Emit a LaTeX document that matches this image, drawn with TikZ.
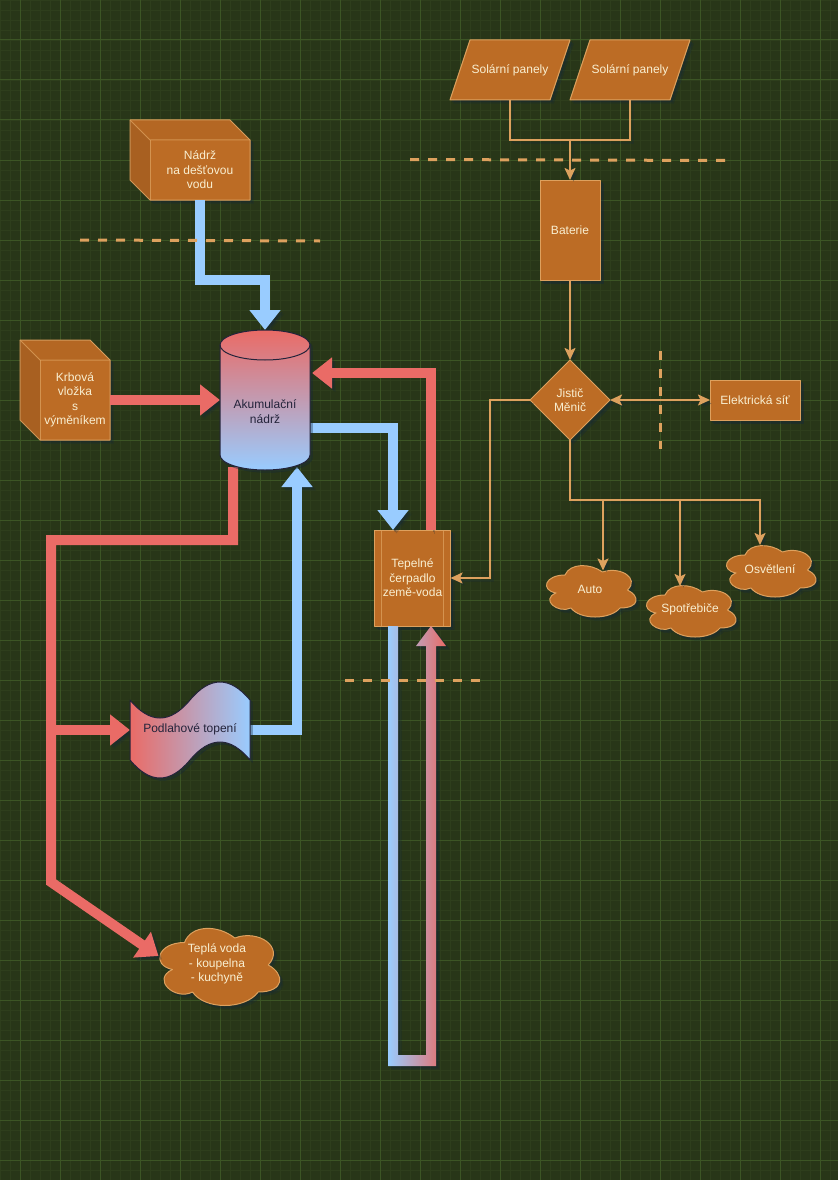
\documentclass[tikz,border=0pt]{standalone}
\usepackage{fontspec}
\setmainfont{Liberation Sans}
\usetikzlibrary{arrows.meta,shapes.geometric,calc}
\definecolor{bgc}{HTML}{283618}
\definecolor{gridmaj}{HTML}{3C5525}
\definecolor{gridmin}{HTML}{2E3E1C}
\definecolor{orf}{HTML}{BC6C25}
\definecolor{ors}{HTML}{DDA15E}
\definecolor{ort}{HTML}{FEFAE0}
\definecolor{bluep}{HTML}{99CCFF}
\definecolor{redp}{HTML}{EA6B66}
\definecolor{shc}{HTML}{14283C}
\definecolor{darkt}{HTML}{23233A}
\tikzset{
  softshadow/.style={
    preaction={draw=shc,fill=shc,opacity=.22,transform canvas={xshift=3.5pt,yshift=-3.5pt}},
    preaction={draw=shc,fill=shc,opacity=.3,transform canvas={xshift=2pt,yshift=-2pt}}},
  lineshadow/.style={
    preaction={draw=shc,opacity=.22,transform canvas={xshift=3.5pt,yshift=-3.5pt}},
    preaction={draw=shc,opacity=.3,transform canvas={xshift=2pt,yshift=-2pt}}},
  orshape/.style={fill=orf,draw=ors,line width=1pt,line join=round,softshadow},
  txt/.style={font=\fontsize{12}{14.5}\selectfont,text=ort!92!orf,align=center,inner sep=0pt,outer sep=0pt},
  dtxt/.style={txt,text=darkt},
  ornode/.style={txt,orshape,minimum width=#1},
  ghost/.style n args={2}{txt,minimum width=#1,minimum height=#2},
  pipe/.style={line width=10pt,line join=miter,lineshadow,-{Triangle[width=30pt,length=20pt]}},
  bluepipe/.style={pipe,draw=bluep},
  redpipe/.style={pipe,draw=redp},
  wire/.style={draw=ors,line width=2pt,line join=miter,lineshadow,-{Stealth[width=11pt,length=12pt,inset=2.5pt]}},
  wireboth/.style={wire,{Stealth[width=11pt,length=12pt,inset=2.5pt]}-{Stealth[width=11pt,length=12pt,inset=2.5pt]}},
  wireplain/.style={draw=ors,line width=2pt,line join=miter,lineshadow},
  cut/.style={draw=ors,line width=3pt,dash pattern=on 9pt off 9pt},
  edgeline/.style={draw=ors,line width=1pt,opacity=.75},
  gridminor/.style={draw=gridmin,line width=.7pt},
  gridmajor/.style={draw=gridmaj,line width=1pt}
}
\newcommand{\cloudat}[4]{%
  \begin{scope}[shift={(#1,#2)},x=#3pt,y=-#4pt]
    \path[orshape] (.25,.25) .. controls (.05,.25) and (0,.5) .. (.16,.55)
      .. controls (0,.66) and (.18,.9) .. (.31,.8)
      .. controls (.4,1) and (.7,1) .. (.8,.8)
      .. controls (1,.8) and (1,.6) .. (.875,.5)
      .. controls (1,.3) and (.8,.1) .. (.625,.2)
      .. controls (.5,.05) and (.3,.05) .. cycle;
  \end{scope}}
\begin{document}
\begin{tikzpicture}[x=1pt,y=-1pt]
\useasboundingbox (0,0) rectangle (838,1180);
\fill[bgc] (0,0) rectangle (838,1180);
% grid
\foreach \g in {0,10,...,830} \draw[gridminor] (\g,0) -- (\g,1180);
\foreach \g in {0,10,...,1170} \draw[gridminor] (0,\g) -- (838,\g);
\foreach \g in {20,60,...,820} \draw[gridmajor] (\g,0) -- (\g,1180);
\foreach \g in {0,40,...,1160} \draw[gridmajor] (0,\g) -- (838,\g);

% cubes
\path[orshape] (130,120) -- (230,120) -- (250,140) -- (250,200) -- (150,200) -- (130,180) -- cycle;
\fill[black,opacity=.04] (130,120) -- (230,120) -- (250,140) -- (150,140) -- cycle;
\fill[black,opacity=.1] (130,120) -- (150,140) -- (150,200) -- (130,180) -- cycle;
\draw[edgeline] (130,120) -- (150,140) -- (250,140);
\draw[edgeline] (150,140) -- (150,200);
\node[ghost={100pt}{60pt}] (nadrz) at (200,170) {Nádrž\\na dešťovou\\vodu};

\path[orshape] (20,340) -- (90,340) -- (110,360) -- (110,440) -- (40,440) -- (20,420) -- cycle;
\fill[black,opacity=.04] (20,340) -- (90,340) -- (110,360) -- (40,360) -- cycle;
\fill[black,opacity=.1] (20,340) -- (40,360) -- (40,440) -- (20,420) -- cycle;
\draw[edgeline] (20,340) -- (40,360) -- (110,360);
\draw[edgeline] (40,360) -- (40,440);
\node[ghost={70pt}{80pt}] (krb) at (75,400) {Krbová\\vložka\\s\\výměníkem};

% right-hand nodes
\node[ornode=60pt,minimum height=100pt] (bat) at (570,230) {Baterie};
\node[txt,orshape,shape=diamond,aspect=1,minimum width=80pt,minimum height=80pt] (jis) at (570,400) {Jistič\\Měnič};
\node[ornode=90pt,minimum height=40pt] (sit) at (755,400) {Elektrická síť};
\path[orshape] (450,100) -- (470,40) -- (570,40) -- (550,100) -- cycle;
\path[orshape] (570,100) -- (590,40) -- (690,40) -- (670,100) -- cycle;
\node[ghost={100pt}{60pt}] (solA) at (510,70) {Solární panely};
\node[ghost={100pt}{60pt}] (solB) at (630,70) {Solární panely};

% clouds
\cloudat{540}{560}{100}{60}
\cloudat{640}{580}{100}{60}
\cloudat{720}{540}{100}{60}
\cloudat{151}{920}{134}{90}
\node[txt] (auto) at (590,589) {Auto};
\node[txt] (spot) at (690,609) {Spotřebiče};
\node[txt] (osv) at (770,569) {Osvětlení};
\node[txt] (tepla) at (217,964) {Teplá voda\\- koupelna\\- kuchyně};

% ports
\coordinate (autoIn) at (603,570.5);
\coordinate (spotIn) at (680,586);
\coordinate (osvIn) at (760,545);
\coordinate (teplaIn) at (158.5,956);
\coordinate (akumTop) at (265,330);
\coordinate (akumLeft) at (220,400);
\coordinate (akumRightIn) at (312,373);
\coordinate (akumRightOut) at (310,428);
\coordinate (akumBotIn) at (297,467);
\coordinate (akumBotOut) at (233,467);
\coordinate (podIn) at (130,730);
\coordinate (podOut) at (250,730);

% heat pump
\node[ornode=76pt,minimum height=96pt] (tep) at (412.5,578) {Tepelné\\čerpadlo\\země-voda};
\draw[edgeline] ([xshift=7pt]tep.north west) -- ([xshift=7pt]tep.south west);
\draw[edgeline] ([xshift=-7pt]tep.north east) -- ([xshift=-7pt]tep.south east);

% wires
\draw[wireplain] (solA.south) -- (510,140) -- (630,140) -- (solB.south);
\draw[wire] (570,140) -- (bat.north);
\draw[wire] (bat.south) -- (jis.north);
\draw[wireboth] (jis.east) -- (sit.west);
\draw[wire] (jis.west) -- (490,400) -- (490,578) -- (tep.east);
\draw[wire] (jis.south) -- (570,500) -- (603,500) -- (autoIn);
\draw[wire] (603,500) -- (680,500) -- (spotIn);
\draw[wire] (680,500) -- (760,500) -- (osvIn);

% water pipes
\draw[bluepipe] (nadrz.south) -- (200,280) -- (265,280) -- (akumTop);
\draw[redpipe] (krb.east) -- (akumLeft);
\draw[redpipe] (431,530) -- (431,373) -- (akumRightIn);
\draw[bluepipe] (akumRightOut) -- (393,428) -- (393,530);
\draw[bluepipe] (podOut) -- (297,730) -- (akumBotIn);
\draw[redpipe] (51,730) -- (podIn);
\draw[redpipe] (akumBotOut) -- (233,540) -- (51,540) -- (51,882) -- (teplaIn);

% ground loop
\coordinate (loopOut) at (393,626);
\coordinate (loopIn) at (431,626);
\shade[left color=bluep,right color=redp,softshadow]
  ([xshift=-5pt]loopOut) -- ([xshift=5pt]loopOut) -- ($(loopOut)+(5,429)$) -- ($(loopIn)+(-5,429)$)
  -- ($(loopIn)+(-5,20)$) -- ($(loopIn)+(-15,20)$) -- (loopIn) -- ($(loopIn)+(15,20)$)
  -- ($(loopIn)+(5,20)$) -- ($(loopIn)+(5,440)$) -- ($(loopOut)+(-5,440)$) -- cycle;

% floor heating
\path[draw=shc,fill=shc,opacity=.35,shift={(2.5,2.5)}]
  (130,700) .. controls (150,724) and (170,724) .. (190,700)
  .. controls (210,676) and (230,676) .. (250,700) -- (250,760)
  .. controls (230,736) and (210,736) .. (190,760)
  .. controls (170,784) and (150,784) .. (130,760) -- cycle;
\shade[left color=redp,right color=bluep]
  (130,700) .. controls (150,724) and (170,724) .. (190,700)
  .. controls (210,676) and (230,676) .. (250,700) -- (250,760)
  .. controls (230,736) and (210,736) .. (190,760)
  .. controls (170,784) and (150,784) .. (130,760) -- cycle;
\draw[darkt,line width=1pt,line join=round]
  (130,700) .. controls (150,724) and (170,724) .. (190,700)
  .. controls (210,676) and (230,676) .. (250,700) -- (250,760)
  .. controls (230,736) and (210,736) .. (190,760)
  .. controls (170,784) and (150,784) .. (130,760) -- cycle;
\node[dtxt] (pod) at (190,729) {Podlahové topení};

% accumulation tank
\path[draw=shc,fill=shc,opacity=.35,shift={(2.5,2.5)}]
  (220,345) arc[start angle=180,end angle=0,x radius=45,y radius=-15] -- (310,455)
  arc[start angle=0,end angle=-180,x radius=45,y radius=-15] -- cycle;
\shade[top color=redp,bottom color=bluep]
  (220,345) arc[start angle=180,end angle=0,x radius=45,y radius=-15] -- (310,455)
  arc[start angle=0,end angle=-180,x radius=45,y radius=-15] -- cycle;
\draw[darkt,line width=1pt,line join=round]
  (220,345) arc[start angle=180,end angle=0,x radius=45,y radius=-15] -- (310,455)
  arc[start angle=0,end angle=-180,x radius=45,y radius=-15] -- cycle;
\draw[darkt,line width=1pt] (220,345) arc[start angle=180,end angle=360,x radius=45,y radius=-15];
\node[dtxt] (akum) at (265,411.5) {Akumulační\\nádrž};

% dashed cut lines (on top of the pipes)
\coordinate (cutAa) at (80,240);   \coordinate (cutAb) at (320,241);
\coordinate (cutBa) at (410,159.5);\coordinate (cutBb) at (726,160.5);
\coordinate (cutCa) at (345,680);  \coordinate (cutCb) at (480,680);
\coordinate (cutDa) at (660,351);  \coordinate (cutDb) at (660,449);
\draw[cut] (cutAa) -- (cutAb);
\draw[cut] (cutBa) -- (cutBb);
\draw[cut] (cutCa) -- (cutCb);
\draw[cut] (cutDa) -- (cutDb);
\end{tikzpicture}
\end{document}
